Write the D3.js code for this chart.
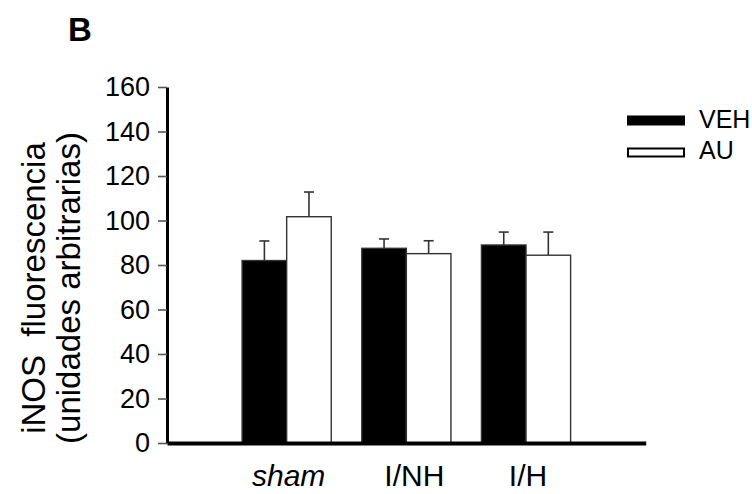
<!DOCTYPE html>
<html>
<head>
<meta charset="utf-8">
<script src="https://cdn.jsdelivr.net/npm/d3@7"></script>
<style>
body { margin: 0; background: #fff; }
text { font-family: "Liberation Sans", Arial, sans-serif; fill: #000; }
</style>
</head>
<body>
<div class="graphic"></div>
<script>
var width = 752;
var height = 494;

// data
var groups = ["sham", "I/NH", "I/H"];
var seriesNames = ["VEH", "AU"];
var veh = [82, 87.5, 89];
var vehErr = [8.8, 4.2, 5.8];
var au = [101.7, 85.1, 84.4];
var auErr = [11.1, 5.8, 10.4];
var yTicks = [0, 20, 40, 60, 80, 100, 120, 140, 160];

var svg = d3.select("div.graphic").append("svg")
	.attr("width", width)
	.attr("height", height);

var x0 = d3.scaleBand()
	.domain(groups)
	.range([167, 645.7])
	.paddingInner(0.255)
	.paddingOuter(0.6275);
var x1 = d3.scaleBand()
	.domain(seriesNames)
	.range([0, x0.bandwidth()]);
var y = d3.scaleLinear()
	.domain([0, 160])
	.range([443, 87]);

var rows = [];
groups.forEach(function(g, i){
	rows.push({group: g, series: "VEH", value: veh[i], err: vehErr[i]});
	rows.push({group: g, series: "AU", value: au[i], err: auErr[i]});
});

// error bars (upper only)
var errs = svg.append("g");
rows.forEach(function(d){
	var cx = x0(d.group) + x1(d.series) + x1.bandwidth() / 2;
	errs.append("line")
		.attr("x1", cx).attr("x2", cx)
		.attr("y1", y(d.value)).attr("y2", y(d.value + d.err))
		.attr("stroke", "#333").attr("stroke-width", 1.6);
	errs.append("line")
		.attr("x1", cx - 5).attr("x2", cx + 5)
		.attr("y1", y(d.value + d.err)).attr("y2", y(d.value + d.err))
		.attr("stroke", "#333").attr("stroke-width", 1.6);
});

// bars
svg.append("g").selectAll("rect")
	.data(rows)
	.enter()
	.append("rect")
	.attr("x", function(d){ return x0(d.group) + x1(d.series); })
	.attr("y", function(d){ return y(d.value); })
	.attr("width", x1.bandwidth())
	.attr("height", function(d){ return y(0) - y(d.value); })
	.attr("fill", function(d){ return d.series == "VEH" ? "#000" : "#fff"; })
	.attr("stroke", "#333")
	.attr("stroke-width", 1.4);

// y axis
var yAxis = svg.append("g")
	.attr("transform", "translate(167,0)")
	.call(d3.axisLeft(y).tickValues(yTicks).tickSize(9).tickSizeOuter(0).tickPadding(8));
yAxis.select(".domain").attr("stroke", "#000").attr("stroke-width", 3);
yAxis.selectAll(".tick line").attr("stroke", "#555").attr("stroke-width", 1.6);
yAxis.selectAll(".tick text")
	.attr("font-size", 27)
	.attr("font-family", "Liberation Sans, Arial, sans-serif")
	.attr("fill", "#000");

// x axis
var xAxis = svg.append("g")
	.attr("transform", "translate(0,443)")
	.call(d3.axisBottom(x0).tickSize(0).tickSizeOuter(0).tickPadding(22));
xAxis.select(".domain").attr("stroke", "#000").attr("stroke-width", 4);
xAxis.selectAll(".tick text")
	.attr("font-size", 30)
	.attr("font-family", "Liberation Sans, Arial, sans-serif")
	.attr("fill", "#000")
	.attr("font-style", function(d){ return d == "sham" ? "italic" : "normal"; })
	.attr("dx", function(d){ return d == "I/NH" ? 8 : 2; });

// y axis title
var yTitle = svg.append("text")
	.attr("transform", "translate(45,288) rotate(-90)")
	.attr("text-anchor", "middle")
	.attr("font-size", 33);
yTitle.append("tspan").attr("x", 0).attr("dy", 0).attr("xml:space", "preserve").text("iNOS  fluorescencia");
yTitle.append("tspan").attr("x", 0).attr("dy", 35).text("(unidades arbitrarias)");

// panel letter
svg.append("text")
	.attr("x", 68).attr("y", 41)
	.attr("font-size", 33)
	.attr("font-weight", "bold")
	.text("B");

// legend
var legend = svg.append("g");
seriesNames.forEach(function(s, i){
	legend.append("rect")
		.attr("x", 628).attr("y", 116.5 + i * 32)
		.attr("width", 56).attr("height", 8)
		.attr("fill", s == "VEH" ? "#000" : "#fff")
		.attr("stroke", "#000").attr("stroke-width", 2);
	legend.append("text")
		.attr("x", 699).attr("y", 128 + i * 31)
		.attr("font-size", 25)
		.text(s);
});
</script>
</body>
</html>
